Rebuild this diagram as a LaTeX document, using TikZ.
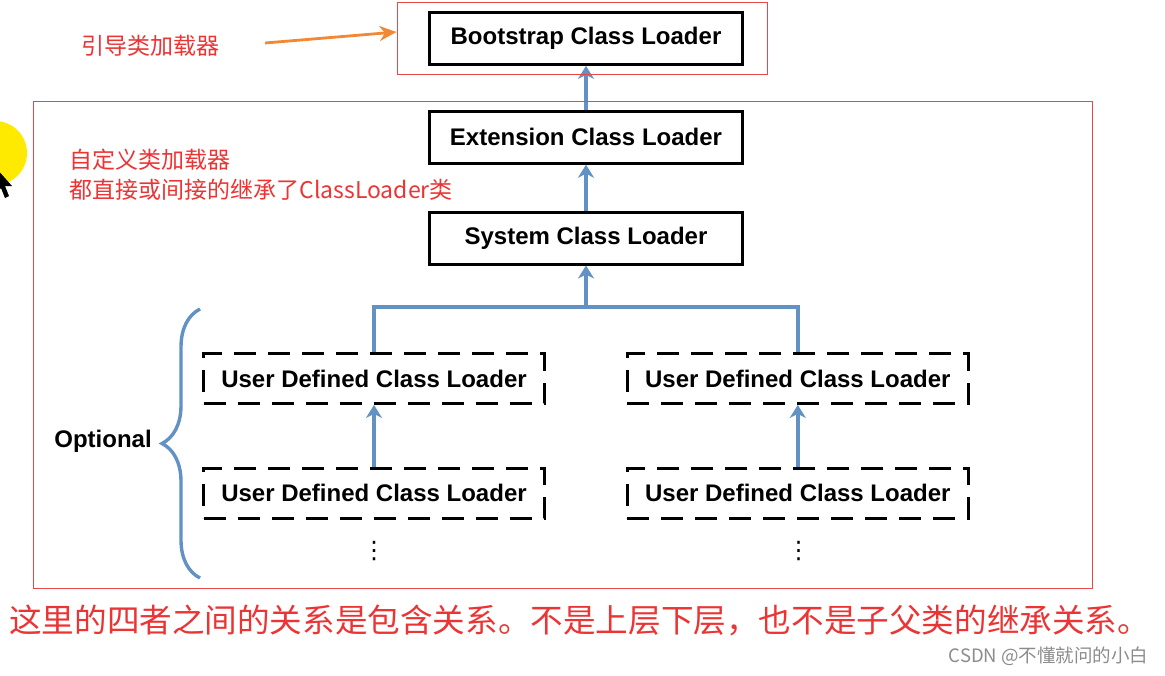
\documentclass[tikz,border=0pt]{standalone}
\usepackage{fontspec}
\setmainfont{Liberation Sans}
\newfontfamily\cjk{Noto Sans CJK SC}
\newfontfamily\symfont{DejaVu Sans}
\usetikzlibrary{arrows.meta,positioning,decorations.pathreplacing}

\definecolor{linkblue}{RGB}{98,146,196}
\definecolor{notered}{RGB}{236,52,52}
\definecolor{framered}{RGB}{232,72,72}
\definecolor{pointer}{RGB}{242,136,52}

\begin{document}
\begin{tikzpicture}[x=1pt,y=-1pt,
  loader node/.style={draw,line width=2.8pt,minimum width=313pt,minimum height=52pt,inner sep=0pt,font=\bfseries\fontsize{24}{28}\selectfont},
  user node/.style={draw,line width=2.8pt,dash pattern=on 22pt off 12pt,minimum width=341pt,minimum height=50pt,inner sep=0pt,font=\bfseries\fontsize{24}{28}\selectfont},
  up arrow/.style={draw=linkblue,line width=3.4pt,-{Stealth[length=13pt,width=16pt,inset=4pt]}},
  more/.style={font=\symfont\fontsize{24}{28}\selectfont,inner sep=0pt},
  note/.style={text=notered,font=\cjk\fontsize{23}{30}\selectfont,anchor=west,align=left}]

  \useasboundingbox (0,0) rectangle (1165,675);
  \fill[white] (0,0) rectangle (1165,675);

  % pointer blob from the recording
  \fill[yellow!92!orange] (-5,153) circle (32pt);
  \fill[black] (-4,168) -- (12,186) -- (5,186) -- (9,196) -- (5,198) -- (1,188) -- (-4,193) -- cycle;

  % loaders
  \node[loader node] (boot) at (586,38.5) {Bootstrap Class Loader};
  \node[loader node] (ext) [below=44pt of boot] {Extension Class Loader};
  \node[loader node] (sys) [below=46pt of ext] {System Class Loader};

  \node[user node] (udl1) at (374,378.5) {User Defined Class Loader};
  \node[user node] (udl2) [right=80pt of udl1] {User Defined Class Loader};
  \node[user node] (udl3) [below=62pt of udl1] {User Defined Class Loader};
  \node[user node] (udl4) [below=62pt of udl2] {User Defined Class Loader};

  \node[more] (more1) at (374,551) {⋮};
  \node[more] (more2) at (798.5,551) {⋮};

  \coordinate (fork) at (586,307);

  \draw[up arrow] (ext) -- (boot);
  \draw[up arrow] (sys) -- (ext);
  \draw[linkblue,line width=3.4pt] (udl1.north) |- (fork) -| (udl2.north);
  \draw[up arrow] (fork) -- (sys);
  \draw[up arrow] (udl3) -- (udl1);
  \draw[up arrow] (udl4) -- (udl2);

  % optional group
  \draw[linkblue,line width=3.4pt,decorate,decoration={brace,amplitude=38pt}] (200,578) -- (200,309);
  \node[font=\bfseries\fontsize{24}{28}\selectfont] (opt) at (103,441) {Optional};

  % red marks
  \node[draw=framered,line width=1pt,minimum width=370pt,minimum height=72pt] (bootframe) at (582,38) {};
  \draw[framered,line width=1pt] (33,101) rectangle (1092,588);

  \node[note] (guide) at (78,46) {引导类加载器};
  \draw[pointer,line width=2.8pt,-{Stealth[length=17pt,width=15pt]}] ([xshift=42pt,yshift=3pt]guide.east) -- ([yshift=6pt]bootframe.west);

  \node[note] (custom) at (66,175) {自定义类加载器\\都直接或间接的继承了ClassLoader类};

  \node[text=notered,font=\cjk\fontsize{32.6}{36}\selectfont,inner sep=0pt,anchor=west] (remark) at (9,620)
    {这里的四者之间的关系是包含关系。不是上层下层，也不是子父类的继承关系。};
  \node[text=black!45,font=\cjk\fontsize{18.5}{20}\selectfont,anchor=east] (mark) at (1152,656) {CSDN @不懂就问的小白};
\end{tikzpicture}
\end{document}
